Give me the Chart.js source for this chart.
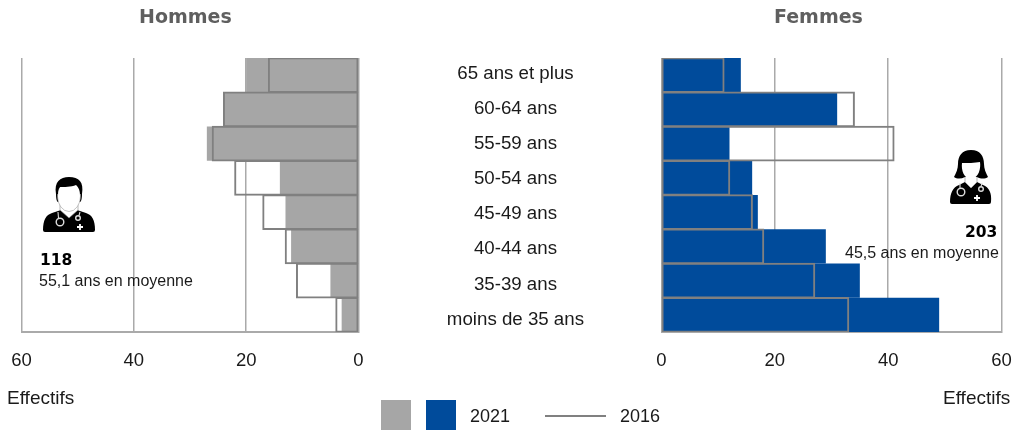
<!DOCTYPE html>
<html lang="fr">
<head>
<meta charset="utf-8">
<script src="https://cdn.jsdelivr.net/npm/chart.js@4"></script>
<style>
html,body{margin:0;padding:0;background:#fff;}
#page{position:relative;width:1013px;height:430px;overflow:hidden;font-family:"Liberation Sans",Arial,sans-serif;color:#1a1a1a;}
canvas{position:absolute;top:0;}
.t{position:absolute;white-space:nowrap;line-height:1;}
.title{font:bold 19px "DejaVu Sans",sans-serif;color:#5f5f5f;top:5px;}
.num{font:bold 15.5px "DejaVu Sans",sans-serif;color:#000;}
.sw{position:absolute;top:400px;width:30px;height:30px;}
svg{position:absolute;}
</style>
</head>
<body>
<div id="page">
  <canvas id="men"></canvas>
  <canvas id="women"></canvas>
  <canvas id="ages"></canvas>

  <div class="t title" style="left:139px">Hommes</div>
  <div class="t title" style="left:774px">Femmes</div>

  <svg style="left:43px;top:177px" width="52" height="56" viewBox="0 0 52 56">
    <path d="M0 53 C0 43 3 38 9 36 L18 33 L26 40 L34 33 L43 36 C49 38 52 43 52 53 Q52 55 50 55 L2 55 Q0 55 0 53Z" fill="#000"/>
    <path d="M17 27 L17 33 L26 41 L35 33 L35 27Z" fill="#fff" stroke="#888" stroke-width=".6"/>
    <path d="M13 17 C11 5 17 0 26 0 C36 0 41 5 39 17 C39 22 38 25 37 25 L15 25 C14 25 13 22 13 17Z" fill="#000"/>
    <ellipse cx="26" cy="19" rx="11.500" ry="15.500" fill="#fff" stroke="#888" stroke-width=".5"/>
    <path d="M14 17 C13 8 18 2 26 2 C34 2 39 8 38 17 L37 17 C37 12 35 10 33 8 C28 10 21 10 17 10 C15 12 15 14 15 17Z" fill="#000"/>
    <circle cx="17" cy="45" r="3.800" fill="none" stroke="#ddd" stroke-width="1.400"/>
    <circle cx="35" cy="41" r="2.300" fill="none" stroke="#ddd" stroke-width="1.400"/>
    <path d="M15 35 L15.500 41 M37 35 L36 38.500" stroke="#ddd" stroke-width="1.100"/>
    <path d="M34 50h6M37 47v6" stroke="#fff" stroke-width="1.800"/>
  </svg>
  <div class="t num" style="left:40px;top:251px">118</div>
  <div class="t" style="left:39px;top:273px;font-size:16px">55,1 ans en moyenne</div>

  <svg style="left:950px;top:149px" width="42" height="56" viewBox="0 0 42 56">
    <path d="M0 53 C0 44 3 38 9 36 L15 33 L21 39 L27 33 L33 36 C39 38 42 44 41 53 Q41 55 39 55 L2 55 Q0 55 0 53Z" fill="#000"/>
    <path d="M15 26 L15 33 L21 39 L27 33 L27 26Z" fill="#fff" stroke="#888" stroke-width=".6"/>
    <path d="M21 1 C30 1 34 7 34 15 C34 20 36 24 38 28 C35 30 31 30 27 28 L15 28 C11 30 7 30 4 28 C6 24 8 20 8 15 C8 7 12 1 21 1Z" fill="#000"/>
    <path d="M12 14 C17 14 25 14 30 13 C31 19 29 29 21 30 C14 30 11 21 12 14Z" fill="#fff"/>
    <circle cx="11" cy="43" r="3.800" fill="none" stroke="#ddd" stroke-width="1.400"/>
    <circle cx="31" cy="40" r="2.300" fill="none" stroke="#ddd" stroke-width="1.400"/>
    <path d="M10 34 L10 40 M32 34 L31 37.500" stroke="#ddd" stroke-width="1.100"/>
    <path d="M24 49h6M27 46v6" stroke="#fff" stroke-width="1.800"/>
  </svg>
  <div class="t num" style="left:965px;top:223px">203</div>
  <div class="t" style="left:845px;top:245px;font-size:16px">45,5 ans en moyenne</div>

  <div class="t" style="left:7px;top:388px;font-size:19px">Effectifs</div>
  <div class="t" style="left:943px;top:388px;font-size:19px">Effectifs</div>

  <div class="sw" style="left:381px;background:#a6a6a6"></div>
  <div class="sw" style="left:426px;background:#004b9b"></div>
  <div class="t" style="left:470px;top:407px;font-size:18px">2021</div>
  <div style="position:absolute;left:545px;top:415px;width:61px;height:2px;background:#808080"></div>
  <div class="t" style="left:620px;top:407px;font-size:18px">2016</div>
</div>
<script>
const categories = ["65 ans et plus","60-64 ans","55-59 ans","50-54 ans","45-49 ans","40-44 ans","35-39 ans","moins de 35 ans"];
const men2021 = [20,24,27,14,13,12,5,3];
const men2016 = [16,24,26,22,17,13,11,4];
const women2021 = [14,31,12,16,17,29,35,49];
const women2016 = [11,34,41,12,16,18,27,33];
const xTicks = [0,20,40,60];

const GRID = '#aaaaaa', OUTLINE = '#808080', GREY = '#a6a6a6', BLUE = '#004b9b', INK = '#1a1a1a';
const FONT = '"Liberation Sans", Arial, sans-serif';

function sized(id, left, width){
  const c = document.getElementById(id);
  c.style.left = left + 'px';
  c.style.width = width + 'px';
  c.style.height = '430px';
  c.width = width; c.height = 430;
  return c;
}
function noPad(s){ s.paddingLeft = s.paddingRight = s.paddingTop = s.paddingBottom = 0; }
function datasets(now, before, color){
  return [
    {label:'2016', data:before, order:1, backgroundColor:'rgba(0,0,0,0)', borderColor:OUTLINE, borderWidth:0.500, borderSkipped:false, inflateAmount:0.750},
    {label:'2021', data:now, order:2, backgroundColor:color, borderWidth:0, inflateAmount:0}
  ];
}
function xAxis(reverse){
  return {
    type:'linear', min:0, max:60, reverse,
    afterBuildTicks(s){ s.ticks = xTicks.map(v => ({value:v})); },
    afterFit(s){ s.height = 98; noPad(s); },
    grid:{color:GRID, lineWidth:1.500, drawTicks:false},
    border:{color:GRID, width:2},
    ticks:{color:INK, font:{family:FONT,size:18.500}, padding:18, maxRotation:0, autoSkip:false}
  };
}
const base = {
  responsive:false, animation:false, indexAxis:'y',
  plugins:{legend:{display:false}, tooltip:{enabled:false}, title:{display:false}},
  datasets:{bar:{grouped:false, barPercentage:1, categoryPercentage:1}}
};

new Chart(sized('men',0,400), {
  type:'bar',
  data:{labels:categories, datasets:datasets(men2021,men2016,GREY)},
  options:{...base,
    layout:{padding:{left:21.500,top:58,right:41.500,bottom:0}},
    scales:{ x:xAxis(true), y:{display:false} }
  }
});
new Chart(sized('women',640,373), {
  type:'bar',
  data:{labels:categories, datasets:datasets(women2021,women2016,BLUE)},
  options:{...base,
    layout:{padding:{left:21.500,top:58,right:11.500,bottom:0}},
    scales:{ x:xAxis(false), y:{display:false} }
  }
});
// Central age labels: their own category axis, a slightly wider rhythm than the bars
new Chart(sized('ages',400,240), {
  type:'bar',
  data:{labels:categories, datasets:[]},
  options:{...base,
    layout:{padding:{left:0,top:56,right:0,bottom:92.800}},
    scales:{
      x:{display:false},
      y:{position:'left', grid:{display:false}, border:{display:false},
         afterFit(s){ s.width = 200; noPad(s); },
         ticks:{color:INK, font:{family:FONT,size:18.700}, crossAlign:'center', padding:8, autoSkip:false}}
    }
  }
});
</script>
</body>
</html>
